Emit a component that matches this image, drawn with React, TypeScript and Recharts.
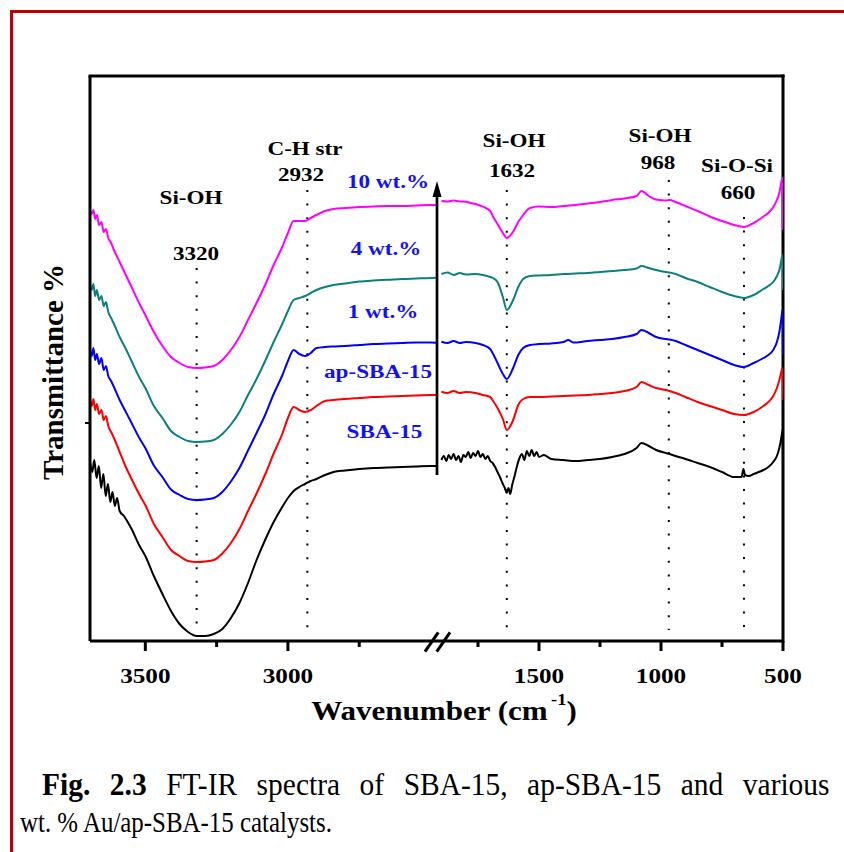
import React from 'react';
import { LineChart, Line, XAxis, YAxis, ReferenceLine } from 'recharts';

type Pt = [number, number];

// ---- broken wavenumber axis ----
const LEFT_START = 3694;
const LEFT_SCALE = 0.2852;
const RIGHT_START = 1900;
const RIGHT_OFFSET = 351.4;
const RIGHT_SCALE = 0.244;
const pos = (w: number) =>
  w > 2200 ? (LEFT_START - w) * LEFT_SCALE : RIGHT_OFFSET + (RIGHT_START - w) * RIGHT_SCALE;

const xTickValues = [3500, 3250, 3000, 2750, 1750, 1500, 1250, 1000, 750, 500];
const xTickLabels = ['3500', '', '3000', '', '', '1500', '', '1000', '', '500'];

// ---- spectra (wavenumber, transmittance a.u.) ----
const sba15Left: Pt[] = [
  [3694, 179], [3686, 169], [3679, 181], [3671, 163], [3663, 175], [3655, 153], [3647, 167],
  [3639, 145], [3631, 157], [3623, 139], [3615, 149], [3607, 135], [3599, 143], [3590, 130],
  [3575, 125], [3560, 118], [3550, 113], [3520, 95], [3500, 85], [3470, 65], [3440, 47],
  [3410, 30], [3380, 17], [3350, 9], [3320, 5], [3290, 5], [3260, 7], [3230, 12], [3200, 23],
  [3170, 38], [3140, 58], [3110, 81], [3080, 101], [3050, 119], [3020, 134], [3000, 143],
  [2980, 150], [2960, 154], [2940, 157], [2920, 160], [2900, 162], [2870, 166], [2840, 169],
  [2800, 170.5], [2750, 172], [2700, 173], [2650, 173.5], [2600, 174], [2550, 174.5],
  [2500, 175], [2480, 175],
];
const sba15Right: Pt[] = [
  [1900, 181], [1890, 185], [1880, 180], [1870, 186], [1860, 182], [1850, 187], [1840, 181],
  [1830, 185], [1820, 179], [1810, 186], [1800, 184], [1790, 189], [1780, 183], [1770, 188],
  [1760, 185], [1750, 190], [1740, 184], [1730, 187], [1720, 182], [1710, 185], [1700, 180],
  [1690, 178], [1680, 174], [1670, 169], [1660, 164], [1650, 158], [1640, 153], [1632, 148],
  [1625, 153], [1618, 147], [1610, 156], [1600, 165], [1590, 175], [1580, 183], [1570, 187],
  [1560, 181], [1550, 190], [1540, 185], [1530, 191], [1520, 185], [1510, 189], [1500, 184],
  [1480, 186], [1450, 182], [1400, 181], [1350, 180], [1300, 181], [1250, 182], [1200, 184],
  [1150, 187], [1100, 193], [1080, 198], [1050, 195], [1020, 191], [980, 188], [965, 187],
  [940, 185], [900, 182], [850, 178], [800, 174], [750, 169], [700, 164], [670, 164],
  [662, 172], [656, 166], [640, 165], [620, 167], [580, 171], [560, 174], [540, 179],
  [525, 185], [515, 193], [505, 206], [502, 211], [500, 176],
];

const apSbaLeft: Pt[] = [
  [3694, 241], [3688, 235], [3682, 242], [3676, 231], [3670, 237], [3662, 227], [3654, 231],
  [3646, 221], [3638, 225], [3630, 215], [3620, 209], [3610, 203], [3590, 189], [3570, 175],
  [3550, 163], [3520, 146], [3500, 136], [3470, 117], [3440, 104], [3410, 91], [3380, 85],
  [3350, 80], [3320, 79], [3290, 79.5], [3260, 81], [3230, 87.5], [3200, 98], [3170, 112],
  [3140, 130], [3110, 147.5], [3080, 166.5], [3050, 187.5], [3020, 207], [3000, 223],
  [2980, 234], [2960, 231], [2940, 229], [2920, 231], [2900, 235], [2870, 240], [2840, 241],
  [2800, 242], [2750, 243], [2700, 244], [2650, 244.5], [2600, 245], [2550, 245.5],
  [2500, 246], [2480, 246],
];
const apSbaRight: Pt[] = [
  [1900, 249.3], [1875, 248], [1850, 250], [1825, 248], [1800, 249], [1760, 248], [1730, 246],
  [1700, 244], [1688, 240], [1670, 233], [1648, 222], [1632, 211], [1606, 221], [1585, 236],
  [1565, 242], [1537, 244], [1500, 244], [1450, 244.5], [1400, 245], [1350, 245.5],
  [1300, 246], [1250, 247], [1200, 248], [1150, 250], [1100, 254], [1080, 259], [1050, 256],
  [1020, 253], [980, 251], [965, 250], [940, 248], [900, 244], [850, 239], [800, 235],
  [750, 231], [700, 227], [660, 226], [620, 229], [580, 235], [560, 239], [540, 245],
  [525, 253], [515, 261], [505, 271], [502, 273], [500, 241],
];

const au1Left: Pt[] = [
  [3694, 291], [3688, 285], [3682, 293], [3676, 281], [3670, 287], [3662, 277], [3654, 283],
  [3646, 271], [3638, 275], [3630, 265], [3620, 260], [3610, 254], [3590, 241], [3570, 230],
  [3550, 219], [3520, 202.5], [3500, 193], [3470, 175.5], [3440, 164], [3410, 151.5],
  [3380, 146], [3350, 142], [3320, 141], [3290, 141.5], [3260, 143], [3230, 149],
  [3200, 159.5], [3170, 173], [3140, 190.5], [3110, 208], [3080, 226], [3050, 247],
  [3020, 265.5], [3000, 280], [2980, 291], [2960, 287], [2940, 285], [2920, 288], [2900, 293],
  [2870, 294], [2840, 294.5], [2800, 295], [2750, 296], [2700, 297], [2650, 297.5],
  [2600, 298], [2550, 298.5], [2500, 298.5], [2480, 298.3],
];
const au1Right: Pt[] = [
  [1900, 299.3], [1875, 298], [1850, 300], [1825, 298], [1800, 299], [1760, 298], [1730, 296],
  [1700, 292], [1688, 287], [1670, 278], [1648, 267], [1632, 262], [1606, 273], [1585, 286],
  [1565, 293], [1537, 296], [1500, 297], [1450, 297.5], [1400, 299], [1380, 301],
  [1360, 298.5], [1300, 300], [1250, 301], [1200, 302], [1150, 304], [1100, 307],
  [1080, 311], [1050, 308], [1020, 304], [980, 302], [965, 301.5], [940, 300], [900, 296],
  [850, 291], [800, 286], [750, 281], [700, 276], [660, 274], [620, 278], [580, 283],
  [560, 286], [540, 291], [525, 299], [515, 309], [505, 326], [502, 331], [500, 286],
];

const au4Left: Pt[] = [
  [3694, 357], [3688, 351], [3682, 357], [3676, 345], [3670, 351], [3662, 341], [3654, 345],
  [3646, 335], [3638, 339], [3630, 329], [3620, 323], [3610, 317], [3590, 304], [3570, 293],
  [3550, 281], [3520, 263], [3500, 253], [3470, 235], [3440, 223], [3410, 210], [3380, 204],
  [3350, 200], [3320, 199], [3290, 199.4], [3260, 201], [3230, 207], [3200, 216.5],
  [3170, 229], [3140, 246], [3110, 262], [3080, 280], [3050, 299], [3020, 317], [3000, 330],
  [2980, 341], [2960, 343], [2940, 345], [2920, 348], [2900, 351], [2870, 354], [2840, 356],
  [2800, 357.5], [2750, 359.5], [2700, 360.5], [2650, 361.2], [2600, 362], [2550, 362.5],
  [2500, 363], [2480, 363.3],
];
const au4Right: Pt[] = [
  [1900, 367], [1875, 368.5], [1850, 366], [1825, 368], [1800, 366.5], [1760, 367],
  [1730, 366], [1700, 364], [1688, 363], [1670, 359], [1648, 344], [1632, 331], [1606, 341],
  [1585, 354], [1565, 362], [1537, 365], [1500, 365.5], [1450, 366], [1400, 367],
  [1350, 367.5], [1300, 368], [1250, 369], [1200, 370], [1150, 371], [1100, 372.5],
  [1080, 375], [1050, 373], [1020, 371], [980, 369], [965, 368.5], [940, 367], [900, 363],
  [850, 359], [800, 354], [750, 349], [700, 345], [660, 343], [620, 346], [580, 352],
  [560, 355], [540, 359], [525, 365], [515, 371], [505, 383], [502, 386], [500, 351],
];

const au10Left: Pt[] = [
  [3694, 431], [3688, 427], [3682, 431], [3676, 422], [3670, 426], [3662, 416], [3654, 419],
  [3646, 409], [3638, 412], [3630, 403], [3620, 398], [3610, 391], [3590, 379], [3570, 367],
  [3550, 355], [3520, 337], [3500, 326], [3470, 309], [3440, 295], [3410, 284], [3380, 278],
  [3350, 274], [3320, 273], [3290, 273.5], [3260, 275], [3230, 281], [3200, 291],
  [3170, 304], [3140, 321], [3110, 338], [3080, 356], [3050, 376], [3020, 394], [3000, 408],
  [2980, 420], [2960, 420], [2940, 420], [2920, 423], [2900, 426], [2870, 430], [2840, 432],
  [2800, 433], [2750, 434], [2700, 434.5], [2650, 435], [2600, 435], [2550, 435.5],
  [2500, 436], [2480, 436],
];
const au10Right: Pt[] = [
  [1900, 440], [1875, 439.5], [1850, 440.5], [1825, 439.5], [1800, 439.3], [1780, 438],
  [1760, 437], [1730, 434.3], [1700, 430], [1688, 424.3], [1670, 417], [1648, 408],
  [1632, 403], [1606, 409.3], [1585, 419], [1565, 426], [1537, 433], [1500, 434.5],
  [1450, 434], [1400, 435], [1350, 436], [1300, 437.5], [1250, 439], [1200, 441],
  [1150, 442.5], [1100, 445], [1080, 450], [1050, 445], [1020, 441.5], [980, 440.5],
  [965, 441], [940, 439], [900, 435], [850, 430], [800, 424.5], [750, 420], [700, 416],
  [660, 414], [620, 418], [580, 424.5], [560, 428], [540, 434], [525, 441], [515, 448],
  [505, 461], [502, 463], [500, 411],
];

const seriesLabels = ['10 wt.%', '4 wt.%', '1 wt.%', 'ap-SBA-15', 'SBA-15'];

// ---- band assignments ----
const peakWavenumbers = [3320, 2932, 1632, 968, 660];
const peakNames = ['Si-OH', 'C-H str', 'Si-OH', 'Si-OH', 'Si-O-Si'];
const peakNumbers = ['3320', '2932', '1632', '968', '660'];
const peakTop = [373, 451, 451, 461, 424];
const peakBottom = [8, 12, 13, 11, 11];

const build = (left: Pt[], right: Pt[]) => [
  ...left.map(([w, t]) => ({ p: pos(w), t })),
  { p: (pos(2480) + pos(1900)) / 2, t: null as number | null },
  ...right.map(([w, t]) => ({ p: pos(w), t })),
];

const series = [
  { name: 'SBA-15', color: '#000000', data: build(sba15Left, sba15Right) },
  { name: 'ap-SBA-15', color: '#ff0000', data: build(apSbaLeft, apSbaRight) },
  { name: '1 wt.%', color: '#0000ff', data: build(au1Left, au1Right) },
  { name: '4 wt.%', color: '#0a8080', data: build(au4Left, au4Right) },
  { name: '10 wt.%', color: '#ff00ff', data: build(au10Left, au10Right) },
];

const FONT = "'Liberation Serif', 'Times New Roman', serif";
const xTickPos = xTickValues.map(pos);

const XTick = (props: any) => {
  const { x, y, payload } = props;
  const i = xTickPos.findIndex((v) => Math.abs(v - payload.value) < 0.01);
  const label = i >= 0 ? xTickLabels[i] : '';
  const major = label !== '';
  return (
    <g>
      <line x1={x} x2={x} y1={y} y2={y + (major ? 10 : 6)} stroke="#000" strokeWidth={3} />
      {major && (
        <text
          transform={`translate(${x},${y + 42}) scale(1.2,1)`}
          textAnchor="middle"
          fontFamily={FONT}
          fontWeight="bold"
          fontSize={21}
          fill="#000"
        >
          {label}
        </text>
      )}
    </g>
  );
};

const BoldText = ({ x, y, color = '#000', size = 18.5, sx = 1.25, children }: any) => (
  <text
    transform={`translate(${x},${y}) scale(${sx},1)`}
    textAnchor="middle"
    fontFamily={FONT}
    fontWeight="bold"
    fontSize={size}
    fill={color}
  >
    {children}
  </text>
);

const peakNamePos = [[191, 204], [305, 155], [514, 147], [660, 142], [737, 172]];
const peakNumPos = [[196, 260], [301, 181], [512, 177], [658, 169], [738, 199]];
const seriesLabelPos = [[388, 188], [386, 255], [383, 318], [378, 378], [384.5, 438]];

export default function App() {
  return (
    <div
      style={{
        position: 'absolute',
        left: 0,
        top: 0,
        width: 844,
        height: 852,
        background: '#fff',
        overflow: 'hidden',
      }}
    >
      <div
        style={{
          position: 'absolute',
          left: 10,
          top: 10,
          width: 900,
          height: 900,
          borderLeft: '3px solid #c00000',
          borderTop: '3px solid #c00000',
        }}
      />
      <div style={{ position: 'absolute', left: 0, top: 0 }}>
        <LineChart width={844} height={852} margin={{ top: 76, right: 61, bottom: 171, left: 30 }}>
          <XAxis
            dataKey="p"
            type="number"
            domain={[0, 693]}
            ticks={xTickPos}
            interval={0}
            tickLine={false}
            tickSize={0}
            tickMargin={0}
            axisLine={{ stroke: '#000', strokeWidth: 3 }}
            tick={<XTick />}
            height={40}
            allowDataOverflow
          />
          <YAxis
            type="number"
            domain={[0, 565]}
            ticks={[218]}
            tickFormatter={() => ''}
            tickSize={5}
            tickLine={{ stroke: '#000', strokeWidth: 2 }}
            axisLine={{ stroke: '#000', strokeWidth: 3 }}
            width={60}
            allowDataOverflow
          />
          <ReferenceLine y={565} stroke="#000" strokeWidth={3} strokeLinecap="square" />
          <ReferenceLine x={693} stroke="#000" strokeWidth={3} strokeLinecap="square" />
          {peakWavenumbers.map((w, i) => (
            <ReferenceLine
              key={'pk' + i}
              segment={[
                { x: pos(w), y: peakTop[i] },
                { x: pos(w), y: peakBottom[i] },
              ]}
              stroke="#000"
              strokeWidth={2}
              strokeDasharray="2 11.6"
            />
          ))}
          {series.map((s) => (
            <Line
              key={s.name}
              data={s.data}
              dataKey="t"
              name={s.name}
              type="monotone"
              stroke={s.color}
              strokeWidth={2}
              dot={false}
              activeDot={false}
              connectNulls={false}
              isAnimationActive={false}
            />
          ))}
        </LineChart>
      </div>
      <svg
        width={844}
        height={852}
        style={{ position: 'absolute', left: 0, top: 0, pointerEvents: 'none' }}
      >
        {/* axis break */}
        <line x1={425} y1={651.7} x2={438.3} y2={632.3} stroke="#000" strokeWidth={3} />
        <line x1={436.7} y1={651.7} x2={450} y2={632.3} stroke="#000" strokeWidth={3} />
        {/* arrow */}
        <line x1={437} y1={475} x2={437} y2={195} stroke="#000" strokeWidth={2.7} />
        <polygon points="437,181 432.5,197 441.5,197" fill="#000" />
        {peakNames.map((n, i) => (
          <BoldText key={'n' + i} x={peakNamePos[i][0]} y={peakNamePos[i][1]}>
            {n}
          </BoldText>
        ))}
        {peakNumbers.map((n, i) => (
          <BoldText key={'v' + i} x={peakNumPos[i][0]} y={peakNumPos[i][1]}>
            {n}
          </BoldText>
        ))}
        {seriesLabels.map((n, i) => (
          <BoldText key={'s' + i} x={seriesLabelPos[i][0]} y={seriesLabelPos[i][1]} color="#1010ff">
            {n}
          </BoldText>
        ))}
        <text
          transform="translate(63,372) rotate(-90)"
          textAnchor="middle"
          fontFamily={FONT}
          fontWeight="bold"
          fontSize={29}
          fill="#000"
        >
          Transmittance %
        </text>
        <text
          transform="translate(444,720) scale(1.15,1)"
          textAnchor="middle"
          fontFamily={FONT}
          fontWeight="bold"
          fontSize={27}
          fill="#000"
        >
          {'Wavenumber (cm'}
          <tspan fontSize={16} dx={3} dy={-15}>
            -1
          </tspan>
          <tspan dy={15}>)</tspan>
        </text>
      </svg>
      <div
        style={{
          position: 'absolute',
          left: 42,
          top: 769,
          width: 829,
          fontFamily: FONT,
          fontSize: 31,
          lineHeight: '31px',
          textAlign: 'justify',
          textAlignLast: 'justify' as any,
          whiteSpace: 'nowrap',
          transform: 'scaleX(0.95)',
          transformOrigin: 'left top',
          color: '#000',
        }}
      >
        <b>Fig. 2.3</b> FT-IR spectra of SBA-15, ap-SBA-15 and various
      </div>
      <div
        style={{
          position: 'absolute',
          left: 20,
          top: 807,
          fontFamily: FONT,
          fontSize: 30,
          lineHeight: '30px',
          whiteSpace: 'nowrap',
          transform: 'scaleX(0.83)',
          transformOrigin: 'left top',
          color: '#000',
        }}
      >
        wt. % Au/ap-SBA-15 catalysts.
      </div>
    </div>
  );
}
